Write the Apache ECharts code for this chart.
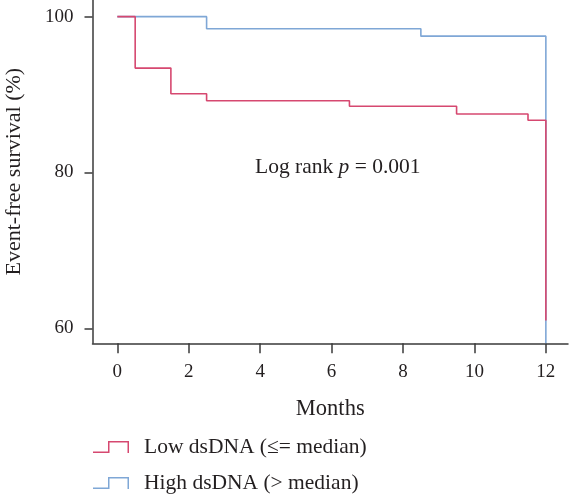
<!DOCTYPE html>
<html>
<head>
<meta charset="utf-8">
<style>
  html, body { margin: 0; padding: 0; background: #fff; }
  #chart { width: 570px; height: 495px; }
</style>
<script src="https://cdn.jsdelivr.net/npm/echarts@6/dist/echarts.min.js"></script>
</head>
<body>
<div id="chart"></div>
<script>
// ---- Data ----
const seriesNames = ['Low dsDNA (≤= median)', 'High dsDNA (> median)'];
const lowMonths  = [0, 0.5, 1.5, 2.5, 6.5, 9.5, 11.5, 12];
const lowSurv    = [100, 93.4, 90.1, 89.2, 88.5, 87.5, 86.7, 61.0];
const highMonths = [0, 2.5, 8.5, 12];
const highSurv   = [100, 98.45, 97.5, 58.07];
const xTicks = [0, 2, 4, 6, 8, 10, 12];
const yTicks = [60, 80, 100];
const annotation = 'Log rank p = 0.001';

const FONT = '"Liberation Serif", "DejaVu Serif", serif';
const TXT = '#231f20';
const RED = '#d64870';
const BLUE = '#7fa7d6';

const pair = (xs, ys) => xs.map((x, i) => [x, ys[i]]);

const iconPath = 'path://M0,10.5 L15,10.5 L15,0 L36,0 L36,12 L34.5,12 L34.5,1.5 L16.5,1.5 L16.5,12 L0,12 Z';

const chart = echarts.init(document.getElementById('chart'), null, { renderer: 'canvas' });
chart.setOption({
  animation: false,
  backgroundColor: '#fff',
  grid: { left: 92.5, right: 2, top: 0, bottom: 151.7, containLabel: false, outerBoundsMode: 'none' },
  xAxis: {
    type: 'value',
    min: -0.695, max: 12.62,
    name: 'Months',
    nameLocation: 'middle',
    nameGap: 54,
    nameTextStyle: { fontFamily: FONT, fontSize: 22.5, color: TXT },
    axisLine: { show: true, onZero: false, lineStyle: { color: '#3a3a3a', width: 1.5 } },
    axisTick: { show: true, length: 10, lineStyle: { color: '#3a3a3a', width: 1.5 }, customValues: xTicks },
    axisLabel: { fontFamily: FONT, fontSize: 19, color: TXT, margin: 19, customValues: xTicks },
    splitLine: { show: false }
  },
  yAxis: {
    type: 'value',
    min: 58.07, max: 102.14,
    name: 'Event-free survival (%)',
    nameLocation: 'middle',
    nameGap: 67.5,
    nameTextStyle: { fontFamily: FONT, fontSize: 22, color: TXT },
    axisLine: { show: true, onZero: false, lineStyle: { color: '#3a3a3a', width: 1.5 } },
    axisTick: { show: true, length: 8, lineStyle: { color: '#3a3a3a', width: 1.5 }, customValues: yTicks },
    axisLabel: { fontFamily: FONT, fontSize: 19, color: TXT, margin: 19, customValues: yTicks },
    splitLine: { show: false }
  },
  legend: {
    orient: 'vertical',
    left: 93, top: 436,
    padding: 0,
    itemWidth: 36, itemHeight: 12,
    itemGap: 14,
    icon: iconPath,
    itemStyle: { borderWidth: 0 },
    textStyle: { fontFamily: FONT, fontSize: 21.5, color: TXT, lineHeight: 21, padding: [0, 0, 0, 10] },
    data: seriesNames
  },
  graphic: [{
    type: 'text',
    left: 255, top: 156,
    style: {
      text: '{a|Log rank }{b|p}{a| = 0.001}',
      rich: {
        a: { fontFamily: FONT, fontSize: 21.5, fill: TXT },
        b: { fontFamily: FONT, fontSize: 21.5, fill: TXT, fontStyle: 'italic' }
      }
    }
  }],
  series: [
    {
      name: seriesNames[0], type: 'line', step: 'end', showSymbol: false, symbol: 'none',
      data: pair(lowMonths, lowSurv),
      lineStyle: { color: RED, width: 1.6 }, itemStyle: { color: RED }, z: 3
    },
    {
      name: seriesNames[1], type: 'line', step: 'end', showSymbol: false, symbol: 'none',
      data: pair(highMonths, highSurv),
      lineStyle: { color: BLUE, width: 1.6 }, itemStyle: { color: BLUE }, z: 2
    }
  ]
});
</script>
</body>
</html>
